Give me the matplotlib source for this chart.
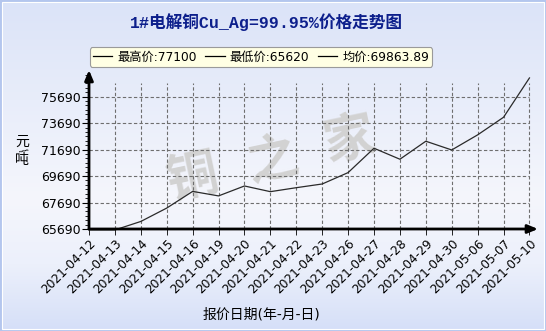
import matplotlib.pyplot as plt
import numpy as np
from matplotlib.lines import Line2D
from matplotlib.colors import LinearSegmentedColormap

plt.rcParams['font.family'] = ['DejaVu Sans', 'Noto Sans CJK SC']

# data
dates = ['2021-04-12', '2021-04-13', '2021-04-14', '2021-04-15', '2021-04-16',
         '2021-04-19', '2021-04-20', '2021-04-21', '2021-04-22', '2021-04-23',
         '2021-04-26', '2021-04-27', '2021-04-28', '2021-04-29', '2021-04-30',
         '2021-05-06', '2021-05-07', '2021-05-10']
prices = [65620, 65620, 66260, 67270, 68530, 68190, 68940, 68510, 68810,
          69090, 69950, 71790, 70960, 72320, 71660, 72800, 74130, 77100]
yticks = [65690, 67690, 69690, 71690, 73690, 75690]
title = '1#电解铜Cu_Ag=99.95%价格走势图'
legend_labels = ['最高价:77100', '最低价:65620', '均价:69863.89']

W, H = 546, 331
fig = plt.figure(figsize=(W / 100, H / 100), dpi=100)

# background gradient
bg = fig.add_axes([0, 0, 1, 1], zorder=-5)
cmap = LinearSegmentedColormap.from_list('bg', [
    (0.0, '#dbe3f8'), (0.3, '#e8edfa'), (0.6, '#f5f6fc'),
    (0.8, '#ecf0fb'), (1.0, '#d5dff8')])
grad = np.linspace(0, 1, 256).reshape(-1, 1)
bg.imshow(grad, aspect='auto', cmap=cmap, extent=[0, 1, 0, 1], origin='upper')
bg.set_xlim(0, 1); bg.set_ylim(0, 1)
bg.axis('off')
bg.add_patch(plt.Rectangle((0.5 / W, 0.5 / H), 1 - 1 / W, 1 - 1 / H,
                           fill=False, ec='#b4c6ee', lw=1.5))
bg.add_patch(plt.Rectangle((2 / W, 2 / H), 1 - 4 / W, 1 - 4 / H,
                           fill=False, ec='white', lw=0.8))

# watermark
for ch, (px, py) in zip('铜之家', [(193, 178), (273, 160), (350, 140)]):
    fig.text(px / W, 1 - py / H, ch, fontsize=37, fontweight='bold',
             color='#d2d2d2', rotation=12, ha='center', va='center',
             family='Noto Sans CJK SC', zorder=-1)

ax = fig.add_axes([89 / W, 102 / H, (538 - 89) / W, (229 - 70) / H])
ax.patch.set_alpha(0)
x = np.arange(len(dates))
ymin, ymax = 65690, 77700
ax.set_xlim(0, 17.33)
ax.set_ylim(ymin, ymax)

# grid
grid_top = 76720
ax.vlines(x[1:], ymin, grid_top, colors='#6e6e6e', linestyles=(0, (3, 2)), lw=0.8)
ax.hlines(yticks[1:], 0, x[-1], colors='#6e6e6e', linestyles=(0, (3, 2)), lw=0.8)

ax.plot(x, prices, color='#2a2a2a', lw=0.9, clip_on=False, zorder=3)

for s in ax.spines.values():
    s.set_visible(False)
ax.annotate('', xy=(0, 1), xytext=(0, 0), xycoords='axes fraction',
            arrowprops=dict(arrowstyle='-|>,head_length=0.6,head_width=0.25',
                            color='black', lw=2, shrinkA=0, shrinkB=0))
ax.annotate('', xy=(1, 0), xytext=(0, 0), xycoords='axes fraction',
            arrowprops=dict(arrowstyle='-|>,head_length=0.6,head_width=0.25',
                            color='black', lw=2, shrinkA=0, shrinkB=0))

ax.set_yticks(yticks)
ax.set_yticklabels([str(v) for v in yticks], fontsize=9)
ax.set_yticks(np.arange(ymin, 77400, 2000 / 6), minor=True)
ax.tick_params(axis='y', which='major', length=5, width=0.8, pad=1)
ax.tick_params(axis='y', which='minor', length=3, width=0.6)
ax.set_xticks(x)
ax.set_xticklabels(dates, rotation=45, ha='right', rotation_mode='anchor', fontsize=8.7)
ax.tick_params(axis='x', length=4, width=0.6, pad=2)

fig.text(266 / W, 1 - 22 / H, title, ha='center', va='center', fontsize=12,
         fontweight='bold', color='#0d1f8c',
         family=['Liberation Mono', 'Noto Sans CJK SC'])

# legend box
handles = [Line2D([], [], color='black', lw=0.9) for _ in legend_labels]
leg = fig.legend(handles, legend_labels, ncol=3, loc='center',
                 bbox_to_anchor=(261 / W, 1 - 57 / H), fontsize=8.8,
                 handlelength=1.6, handletextpad=0.4, columnspacing=0.7,
                 frameon=True, fancybox=True, framealpha=1,
                 borderpad=0.25, shadow=False)
leg.get_frame().set_facecolor('#ffffe4')
leg.get_frame().set_edgecolor('#9a9a9a')
leg.get_frame().set_linewidth(0.8)

fig.text(22 / W, 1 - 142 / H, '元', ha='center', va='center', fontsize=10,
         family='Noto Sans CJK SC')
fig.text(22 / W, 1 - 151 / H, '/', ha='center', va='center', fontsize=8,
         rotation=-60)
fig.text(22 / W, 1 - 160 / H, '吨', ha='center', va='center', fontsize=10,
         family='Noto Sans CJK SC')
fig.text(261 / W, 1 - 315 / H, '报价日期(年-月-日)', ha='center', va='center',
         fontsize=10)

fig.savefig('out.png', dpi=100)
